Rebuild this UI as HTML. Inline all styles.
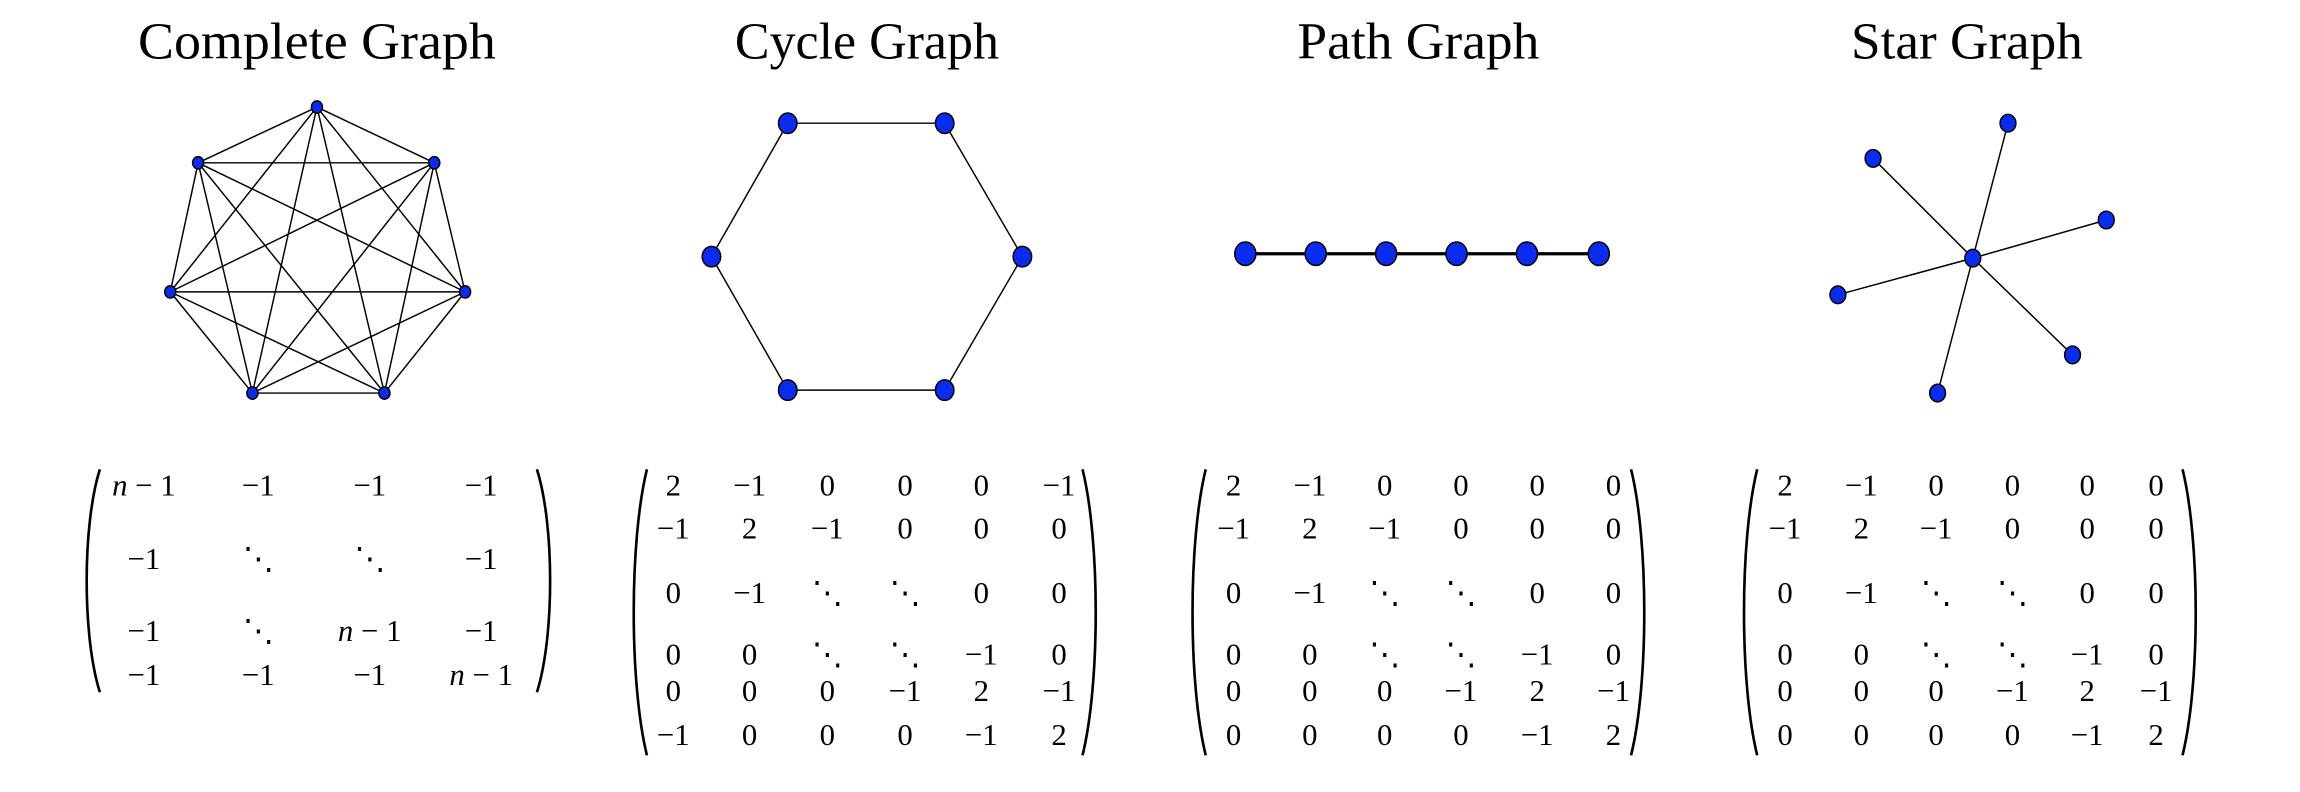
<!DOCTYPE html>
<html><head><meta charset="utf-8"><style>
html,body{margin:0;padding:0;background:#fff}
svg{display:block}
text{font-family:"Liberation Serif",serif;fill:#000}
</style></head><body>
<svg id="fig" width="2300" height="792" viewBox="0 0 1568 540" xmlns="http://www.w3.org/2000/svg">
<g>
<text x="216" y="40" font-size="35" text-anchor="middle" textLength="244" lengthAdjust="spacingAndGlyphs">Complete Graph</text>
<text x="591" y="40" font-size="35" text-anchor="middle" textLength="180" lengthAdjust="spacingAndGlyphs">Cycle Graph</text>
<text x="967" y="40" font-size="35" text-anchor="middle" textLength="165" lengthAdjust="spacingAndGlyphs">Path Graph</text>
<text x="1341" y="40" font-size="35" text-anchor="middle" textLength="158" lengthAdjust="spacingAndGlyphs">Star Graph</text>
</g>
<g id="graphs"></g>
<g id="mats"></g>
</svg>
<script>
const completeNodes=[[216,73],[296,111],[317,199],[262,268],[172,268],[116,199],[135,111]];
const cycleNodes=[[537,84],[644,84],[697,175],[644,266],[537,266],[485,175]];
const pathNodes=[[849,173],[897,173],[945,173],[993,173],[1041,173],[1090,173]];
const starNodes=[[1345,176],[1369,84],[1277,108],[1436,150],[1253,201],[1413,242],[1321,268]];
const cycleEdges=[[0,1],[1,2],[2,3],[3,4],[4,5],[5,0]];
const pathEdges=[[0,1],[1,2],[2,3],[3,4],[4,5]];
const starEdges=[[0,1],[0,2],[0,3],[0,4],[0,5],[0,6]];
const completeMatrix=[["n − 1","−1","−1","−1"],["−1","⋱","⋱","−1"],["−1","⋱","n − 1","−1"],["−1","−1","−1","n − 1"]];
const cycleMatrix=[["2","−1","0","0","0","−1"],["−1","2","−1","0","0","0"],["0","−1","⋱","⋱","0","0"],["0","0","⋱","⋱","−1","0"],["0","0","0","−1","2","−1"],["−1","0","0","0","−1","2"]];
const pathMatrix=[["2","−1","0","0","0","0"],["−1","2","−1","0","0","0"],["0","−1","⋱","⋱","0","0"],["0","0","⋱","⋱","−1","0"],["0","0","0","−1","2","−1"],["0","0","0","0","−1","2"]];
const starMatrix=pathMatrix.map(r=>r.slice());
const NS="http://www.w3.org/2000/svg";
const G=document.getElementById('graphs'),M=document.getElementById('mats');
function mk(t,a,p){const e=document.createElementNS(NS,t);for(const k in a)e.setAttribute(k,a[k]);p.appendChild(e);return e;}
function drawGraph(name,nodes,edges,r,sw){
  const g=mk('g',{},G);
  
  
  edges.forEach(([a,b])=>{
    const l=mk('line',{x1:nodes[a][0],y1:nodes[a][1],x2:nodes[b][0],y2:nodes[b][1],stroke:'#000','stroke-width':sw},g);
    
    
  });
  nodes.forEach(([x,y])=>{
    const c=mk('ellipse',{cx:x,cy:y,rx:r*0.9,ry:r,fill:'#0a2cf0',stroke:'#000','stroke-width':1},g);
    
    
  });
}
const ce=[];for(let i=0;i<7;i++)for(let j=i+1;j<7;j++)ce.push([i,j]);
drawGraph('complete-graph',completeNodes,ce,4.2,1);
drawGraph('cycle-graph',cycleNodes,cycleEdges,7,1);
drawGraph('path-graph',pathNodes,pathEdges,8,2.2);
drawGraph('star-graph',starNodes,starEdges,6,1);
function drawMatrix(name,m,x0,x1,y0,y1,cols,rows){
  const g=mk('g',{},M);
  
  
  const h=y1-y0;
  const lp=mk('path',{d:`M${x0+10},${y0} C${x0-2},${y0+h*0.25} ${x0-2},${y0+h*0.75} ${x0+10},${y1}`,fill:'none',stroke:'#000','stroke-width':1.8},g);
  
  
  const rp=mk('path',{d:`M${x1-10},${y0} C${x1+2},${y0+h*0.25} ${x1+2},${y0+h*0.75} ${x1-10},${y1}`,fill:'none',stroke:'#000','stroke-width':1.8},g);
  
  
  m.forEach((row,i)=>row.forEach((v,j)=>{
    const t=mk('text',{x:cols[j],y:rows[i]+7,'font-size':21,'text-anchor':'middle'},g);
    if(v.indexOf('n')>=0){t.innerHTML='<tspan font-style="italic">n</tspan>'+v.slice(1);}else t.textContent=v;
    
    
  }));
}
drawMatrix('complete-laplacian',completeMatrix,58,376,320,472,[98,176,252,328],[331,381,430,460]);
const r6=[331,360,404,446,471,501];
drawMatrix('cycle-laplacian',cycleMatrix,431,748,320,515,[459,511,564,617,669,722],r6);
drawMatrix('path-laplacian',pathMatrix,812,1122,320,515,[841,893,944,996,1048,1100],r6);
drawMatrix('star-laplacian',starMatrix,1188,1498,320,515,[1217,1269,1320,1372,1423,1470],r6);
</script>
</body></html>
